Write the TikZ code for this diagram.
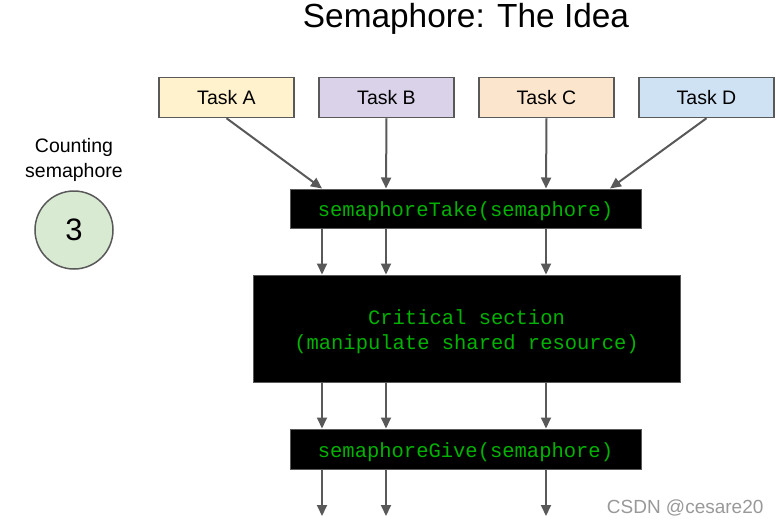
\documentclass[tikz,border=0pt]{standalone}
\usepackage{fontspec}
\setmainfont{Liberation Sans}
\newfontfamily\monofont{Liberation Mono}
\usetikzlibrary{arrows.meta}
\definecolor{bordergray}{HTML}{595959}
\definecolor{taskA}{HTML}{FFF2CC}
\definecolor{taskB}{HTML}{D9D2E9}
\definecolor{taskC}{HTML}{FCE5CD}
\definecolor{taskD}{HTML}{CFE2F3}
\definecolor{semgreen}{HTML}{D9EAD3}
\definecolor{codegreen}{HTML}{00B300}
\tikzset{
  taskbox/.style={draw=bordergray, line width=1.5pt, minimum width=135pt, minimum height=40pt, inner sep=0pt,
    font=\fontsize{19.5}{23}\selectfont},
  codefont/.style={text=codegreen, align=center, font=\monofont\fontsize{20.5}{25}\selectfont},
  codebox/.style={fill=black, draw=bordergray, line width=1pt, inner sep=0pt, codefont},
  arr/.style={draw=bordergray, line width=2pt, -{Triangle[length=11pt,width=10pt]}},
}
\begin{document}
\begin{tikzpicture}[x=1pt,y=-1pt]
\useasboundingbox[fill=white] (0,0) rectangle (780,525);
\node (title) at (466,19) {\fontsize{33.4}{38}\selectfont Semaphore: The Idea};
\node[taskbox, fill=taskA] (A) at (226.5,97.5) {Task A};
\node[taskbox, fill=taskB] (B) at (386.5,97.5) {Task B};
\node[taskbox, fill=taskC] (C) at (546.5,97.5) {Task C};
\node[taskbox, fill=taskD] (D) at (706.5,97.5) {Task D};
\node[align=center, font=\fontsize{19.5}{25}\selectfont] (cnt) at (74,160) {Counting\\semaphore};
\node[circle, draw=bordergray, line width=1.5pt, fill=semgreen, minimum size=78pt, inner sep=0pt,
  font=\fontsize{31}{36}\selectfont] (sem) at (74,230) {3};
\node[codebox, minimum width=351pt, minimum height=39pt, text height=20.5pt, text depth=4pt] (take) at (465.5,208.5) {semaphoreTake(semaphore)};
\node[codebox, minimum width=427pt, minimum height=107pt] (crit) at (466.5,328.5) {};
\node[codefont] (critlbl) at (466.5,331.5) {Critical section\\(manipulate shared resource)};
\node[codebox, minimum width=351pt, minimum height=40pt, text height=20.5pt, text depth=4pt] (give) at (465.5,449) {semaphoreGive(semaphore)};
\coordinate (c1) at (322,0);
\coordinate (c2) at (386,0);
\coordinate (c3) at (546,0);
\coordinate (c4) at (610,0);
\coordinate (e1) at (322,516);
\coordinate (e2) at (386,516);
\coordinate (e3) at (546,516);
\draw[arr] (A.south) -- (take.north -| c1);
\draw[arr] (B.south) -- (take.north -| c2);
\draw[arr] (C.south) -- (take.north -| c3);
\draw[arr] (D.south) -- (take.north -| c4);
\foreach \c in {c1,c2,c3}{
  \draw[arr] (take.south -| \c) -- (crit.north -| \c);
  \draw[arr] (crit.south -| \c) -- (give.north -| \c);
}
\draw[arr] (give.south -| e1) -- (e1);
\draw[arr] (give.south -| e2) -- (e2);
\draw[arr] (give.south -| e3) -- (e3);
\node[text=black!40, font=\fontsize{19}{22}\selectfont, anchor=east] (wm) at (767,508) {CSDN @cesare20};
\end{tikzpicture}
\end{document}
